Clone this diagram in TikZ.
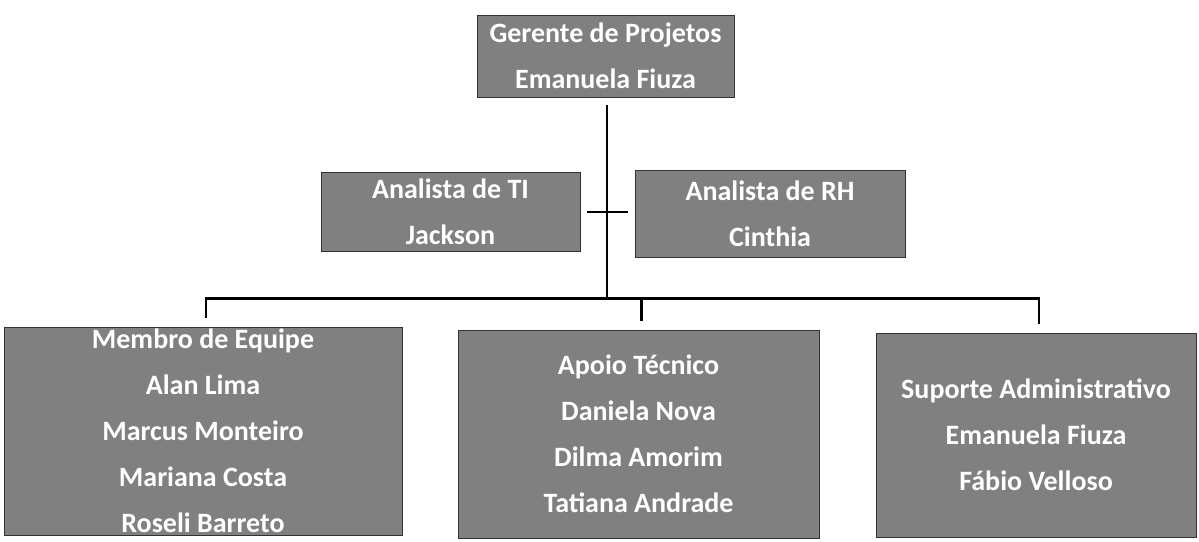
\documentclass[tikz,border=0pt]{standalone}
\usepackage{fontspec}
\setmainfont{Carlito}
\usepackage{tikz}
\usetikzlibrary{calc,positioning}

\begin{document}
\begin{tikzpicture}[x=0.5pt,y=-0.5pt,
		cargo/.style={fill=black!50,draw=black!80,text=white,align=center,inner sep=0pt,
			font=\fontsize{14pt}{23pt}\selectfont\bfseries},
		liga/.style={line width=1.3pt}]
			\useasboundingbox (0,0) rectangle (1199,541);
			% topo
			\node[cargo,minimum width=128.5pt,minimum height=41pt] at (605.5,56) (ger) {Gerente de Projetos\\Emanuela Fiuza};
			% analistas
			\node[cargo,minimum width=129.5pt,minimum height=39.5pt] at (450.5,211.5) (ti) {Analista de TI\\Jackson};
			\node[cargo,minimum width=135pt,minimum height=43.5pt] at (770,213.5) (rh) {Analista de RH\\Cinthia};
			% equipes
			\node[cargo,minimum width=199pt,minimum height=104pt] at (203,431) (equipe) {Membro de Equipe\\Alan Lima\\Marcus Monteiro\\Mariana Costa\\Roseli Barreto};
			\node[cargo,minimum width=180.5pt,minimum height=104pt] at (638.5,434) (apoio) {Apoio Técnico\\Daniela Nova\\Dilma Amorim\\Tatiana Andrade};
			\node[cargo,minimum width=160pt,minimum height=102pt] at (1036,435) (suporte) {Suporte Administrativo\\Emanuela Fiuza\\Fábio Velloso};
			
			\draw[liga] ($(ger.south)+(1.5,8)$) coordinate (topo) -- ++(0,193) coordinate (bar);
			\draw[liga] ($(ti.east)+(7,0.5)$) -- ($(rh.west)+(-7,-1.5)$);
			\foreach \n in {equipe,apoio,suporte} {
				\draw[liga] (bar) -| ($(\n.north)+(3,-9)$);
			};
	\end{tikzpicture}
\end{document}
